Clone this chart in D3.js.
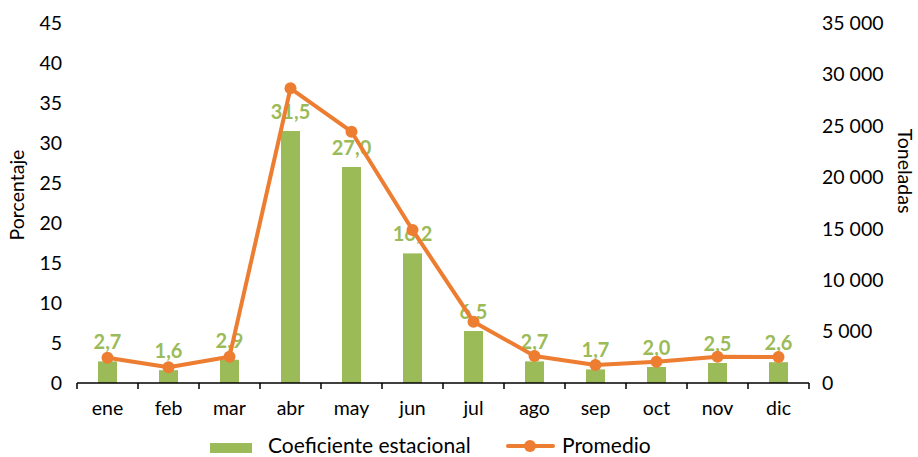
<!DOCTYPE html>
<html><head><meta charset="utf-8">
<script src="https://cdn.jsdelivr.net/npm/d3@7"></script>
<style>body{margin:0;background:#fff;} text{font-family:Lato, "Open Sans", sans-serif;}</style>
</head><body><svg id="c" width="918" height="457"></svg>
<script>
const months = ["ene","feb","mar","abr","may","jun","jul","ago","sep","oct","nov","dic"];
const coef = [2.7,1.6,2.9,31.5,27.0,16.2,6.5,2.7,1.7,2.0,2.5,2.6];
const promedio = [2460,1530,2560,28650,24430,14880,5960,2630,1750,2070,2560,2530];
const leftTicks = [0,5,10,15,20,25,30,35,40,45];
const rightTicks = [0,5000,10000,15000,20000,25000,30000,35000];

const svg = d3.select("#c");
const L=77, R=809, T=23, B=383;
const green="#9BBB59", orange="#ED7D31";
const FS = 19.5;
const x = d3.scaleBand().domain(months).range([L,R]);
const yL = d3.scaleLinear().domain([0,45]).range([B,T]);
const yR = d3.scaleLinear().domain([0,35000]).range([B,T]);
const fmt = v => d3.format(",")(v).replace(/,/g," ");

svg.selectAll(".lt").data(leftTicks).enter().append("text")
  .attr("x",62).attr("y",d=>yL(d)).attr("dy","0.35em").attr("text-anchor","end")
  .attr("font-size",FS).attr("fill","#000").text(d=>d);
svg.selectAll(".rt").data(rightTicks).enter().append("text")
  .attr("x",822).attr("y",d=>yR(d)).attr("dy","0.35em").attr("text-anchor","start")
  .attr("font-size",FS).attr("fill","#000").text(d=>d===0?"0":fmt(d));

svg.append("text").attr("transform","translate(24,195) rotate(-90)").attr("text-anchor","middle")
  .attr("font-size",FS).text("Porcentaje");
svg.append("text").attr("transform","translate(898,171) rotate(90)").attr("text-anchor","middle")
  .attr("font-size",FS).text("Toneladas");

const bw = 19;
svg.selectAll(".bar").data(coef).enter().append("rect")
  .attr("x",(d,i)=>x(months[i])+x.bandwidth()/2-bw/2).attr("width",bw)
  .attr("y",d=>yL(d)).attr("height",d=>B-yL(d)).attr("fill",green);

// x axis
svg.append("line").attr("x1",L).attr("x2",R).attr("y1",B).attr("y2",B).attr("stroke","#000").attr("stroke-width",1.5);
const bounds = months.map(m=>x(m)).concat([R]);
svg.selectAll(".tk").data(bounds).enter().append("line")
  .attr("x1",d=>d).attr("x2",d=>d).attr("y1",B).attr("y2",B+6).attr("stroke","#000").attr("stroke-width",1.5);
svg.selectAll(".xl").data(months).enter().append("text")
  .attr("x",d=>x(d)+x.bandwidth()/2).attr("y",408).attr("dy","0.35em").attr("text-anchor","middle")
  .attr("font-size",FS).text(d=>d);

svg.selectAll(".lbl").data(coef).enter().append("text")
  .attr("x",(d,i)=>x(months[i])+x.bandwidth()/2).attr("y",d=>yL(d)-19).attr("dy","0.35em")
  .attr("text-anchor","middle").attr("font-size",20).attr("font-weight","bold").attr("fill",green)
  .text(d=>d.toFixed(1).replace(".",","));

const line = d3.line().x((d,i)=>x(months[i])+x.bandwidth()/2).y(d=>yR(d));
svg.append("path").datum(promedio).attr("d",line).attr("fill","none").attr("stroke",orange).attr("stroke-width",4).attr("stroke-linejoin","round");
svg.selectAll(".pt").data(promedio).enter().append("circle")
  .attr("cx",(d,i)=>x(months[i])+x.bandwidth()/2).attr("cy",d=>yR(d)).attr("r",6).attr("fill",orange);

// legend
svg.append("rect").attr("x",210).attr("y",443).attr("width",42).attr("height",10).attr("fill",green);
svg.append("text").attr("x",268).attr("y",446).attr("dy","0.35em").attr("font-size",21).text("Coeficiente estacional");
svg.append("line").attr("x1",508).attr("x2",553).attr("y1",446).attr("y2",446).attr("stroke",orange).attr("stroke-width",4).attr("stroke-linecap","round");
svg.append("circle").attr("cx",530).attr("cy",446).attr("r",6).attr("fill",orange);
svg.append("text").attr("x",562).attr("y",446).attr("dy","0.35em").attr("font-size",21).text("Promedio");
</script></body></html>
